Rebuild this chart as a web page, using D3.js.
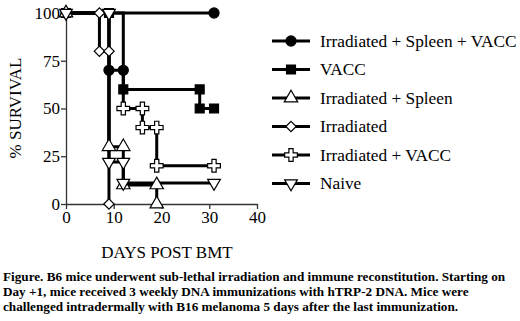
<!DOCTYPE html>
<html lang="en">
  <head>
    <meta charset="utf-8">
    <title>% Survival, days post BMT</title>
    <script src="https://cdn.jsdelivr.net/npm/d3@7"></script>
    <style>
      body { margin: 0; background: #fff; }
      text { font-family: "Liberation Serif", "Times New Roman", serif; fill: #000; }
      .caption { font-weight: bold; font-size: 13.2px; }
    </style>
  </head>
  <body>
    <script>
      var w = 520;
      var h = 321;

      // data: step curves (day of event, % surviving after it)
      var seriesNames = ["Irradiated + Spleen + VACC", "VACC", "Irradiated + Spleen",
                         "Irradiated", "Irradiated + VACC", "Naive"];
      var isvDays = [0, 31],            isvSurv = [100, 100];
      var vaccDays = [0, 9, 12, 28, 31], vaccSurv = [100, 70, 60, 50, 50];
      var isDays = [0, 9, 12, 19],       isSurv = [100, 30, 10, 0];
      var irrDays = [0, 7, 9],           irrSurv = [100, 80, 0];
      var ivDays = [0, 12, 16, 19, 31],  ivSurv = [100, 50, 40, 20, 20];
      var naiveDays = [0, 9, 12, 31],    naiveSurv = [100, 22, 11, 11];

      // plotted symbols as they appear in the figure [day, %]
      var isvMarks = [[0, 100], [9, 70], [12, 70], [31, 100]];
      var vaccMarks = [[0, 100], [9, 100], [12, 60], [28, 60], [28, 50], [31, 50]];
      var isMarks = [[0, 100], [9, 30], [12, 30], [12, 10], [19, 10], [19, 0]];
      var irrMarks = [[7, 100], [7, 80], [9, 80], [9, 0]];
      var ivMarks = [[12, 50], [16, 50], [16, 40], [19, 40], [19, 20], [31, 20]];
      var naiveMarks = [[0, 100], [9, 100], [9, 22], [12, 22], [12, 11], [31, 11]];

      var xTicks = [0, 10, 20, 30, 40];
      var yTicks = [0, 25, 50, 75, 100];

      var caption = [
        "Figure. B6 mice underwent sub-lethal irradiation and immune reconstitution. Starting on",
        "Day +1, mice received 3 weekly DNA immunizations with hTRP-2 DNA. Mice were",
        "challenged intradermally with B16 melanoma 5 days after the last immunization."
      ];

      // custom symbols
      var diamond = { draw: function(c, size) {
        var r = Math.sqrt(size) * 0.62;
        c.moveTo(0, -r); c.lineTo(r, 0); c.lineTo(0, r); c.lineTo(-r, 0); c.closePath();
      }};
      var triDown = { draw: function(c, size) {
        var s = Math.sqrt(size * 4 / Math.sqrt(3)), hh = s * Math.sqrt(3) / 2;
        c.moveTo(-s / 2, -hh / 3); c.lineTo(s / 2, -hh / 3); c.lineTo(0, hh * 2 / 3); c.closePath();
      }};

      var series = [
        { days: isvDays, surv: isvSurv, marks: isvMarks, type: d3.symbolCircle, size: 80, fill: "#000" },
        { days: vaccDays, surv: vaccSurv, marks: vaccMarks, type: d3.symbolSquare, size: 80, fill: "#000" },
        { days: isDays, surv: isSurv, marks: isMarks, type: d3.symbolTriangle, size: 78, fill: "#fff" },
        { days: irrDays, surv: irrSurv, marks: irrMarks, type: diamond, size: 70, fill: "#fff" },
        { days: ivDays, surv: ivSurv, marks: ivMarks, type: d3.symbolCross, size: 90, fill: "#fff" },
        { days: naiveDays, surv: naiveSurv, marks: naiveMarks, type: triDown, size: 70, fill: "#fff" }
      ];

      var svg = d3.select("body")
        .append("svg")
        .attr("width", w)
        .attr("height", h);

      var xScale = d3.scaleLinear().domain([0, 40]).range([66, 257]);
      var yScale = d3.scaleLinear().domain([0, 100]).range([204, 13]);

      // axes
      var xAxis = d3.axisBottom(xScale).tickValues(xTicks).tickSize(5).tickSizeOuter(0);
      var yAxis = d3.axisLeft(yScale).tickValues(yTicks).tickSize(5).tickSizeOuter(0);

      var gx = svg.append("g")
        .attr("transform", "translate(0," + yScale(0) + ")")
        .call(xAxis);
      var gy = svg.append("g")
        .attr("transform", "translate(" + xScale(0) + ",0)")
        .call(yAxis);

      [gx, gy].forEach(function(g) {
        g.select(".domain").attr("stroke", "#333").attr("stroke-width", 1.3);
        g.selectAll(".tick line").attr("stroke", "#333").attr("stroke-width", 1.3);
        g.selectAll(".tick text")
          .attr("font-family", "Liberation Serif, serif")
          .attr("font-size", 17)
          .attr("fill", "#000");
      });
      gx.selectAll(".tick text").attr("dy", "0.72em").attr("y", 7);
      gy.selectAll(".tick text").attr("x", -6);

      // step curves
      var line = d3.line()
        .x(function(d) { return xScale(d[0]); })
        .y(function(d) { return yScale(d[1]); })
        .curve(d3.curveStepAfter);

      series.forEach(function(s) {
        var pts = s.days.map(function(d, i) { return [d, s.surv[i]]; });
        svg.append("path")
          .attr("d", line(pts))
          .attr("fill", "none")
          .attr("stroke", "#000")
          .attr("stroke-width", 3);
      });

      series.forEach(function(s) {
        svg.selectAll(null)
          .data(s.marks)
          .enter()
          .append("path")
          .attr("transform", function(d) {
            return "translate(" + xScale(d[0]) + "," + yScale(d[1]) + ")";
          })
          .attr("d", d3.symbol().type(s.type).size(s.size))
          .attr("fill", s.fill)
          .attr("stroke", "#000")
          .attr("stroke-width", 1.2);
      });

      // legend
      var legend = svg.append("g");
      seriesNames.forEach(function(name, i) {
        var y = 41 + i * 28.5;
        legend.append("line")
          .attr("x1", 272).attr("x2", 310)
          .attr("y1", y).attr("y2", y)
          .attr("stroke", "#000")
          .attr("stroke-width", 3);
        legend.append("path")
          .attr("transform", "translate(291," + y + ")")
          .attr("d", d3.symbol().type(series[i].type).size(series[i].size))
          .attr("fill", series[i].fill)
          .attr("stroke", "#000")
          .attr("stroke-width", 1.2);
        legend.append("text")
          .attr("x", 320)
          .attr("y", y)
          .attr("dy", "0.33em")
          .attr("font-size", 17.3)
          .text(name);
      });

      // axis titles
      svg.append("text")
        .attr("transform", "rotate(-90)")
        .attr("x", -108)
        .attr("y", 21)
        .attr("text-anchor", "middle")
        .attr("font-size", 17)
        .text("% SURVIVAL");

      svg.append("text")
        .attr("x", 167)
        .attr("y", 258)
        .attr("text-anchor", "middle")
        .attr("font-size", 17)
        .text("DAYS POST BMT");

      svg.selectAll(".caption")
        .data(caption)
        .enter()
        .append("text")
        .attr("class", "caption")
        .attr("x", 3)
        .attr("y", function(d, i) { return 281 + i * 15; })
        .text(function(d) { return d; });
    </script>
  </body>
</html>
